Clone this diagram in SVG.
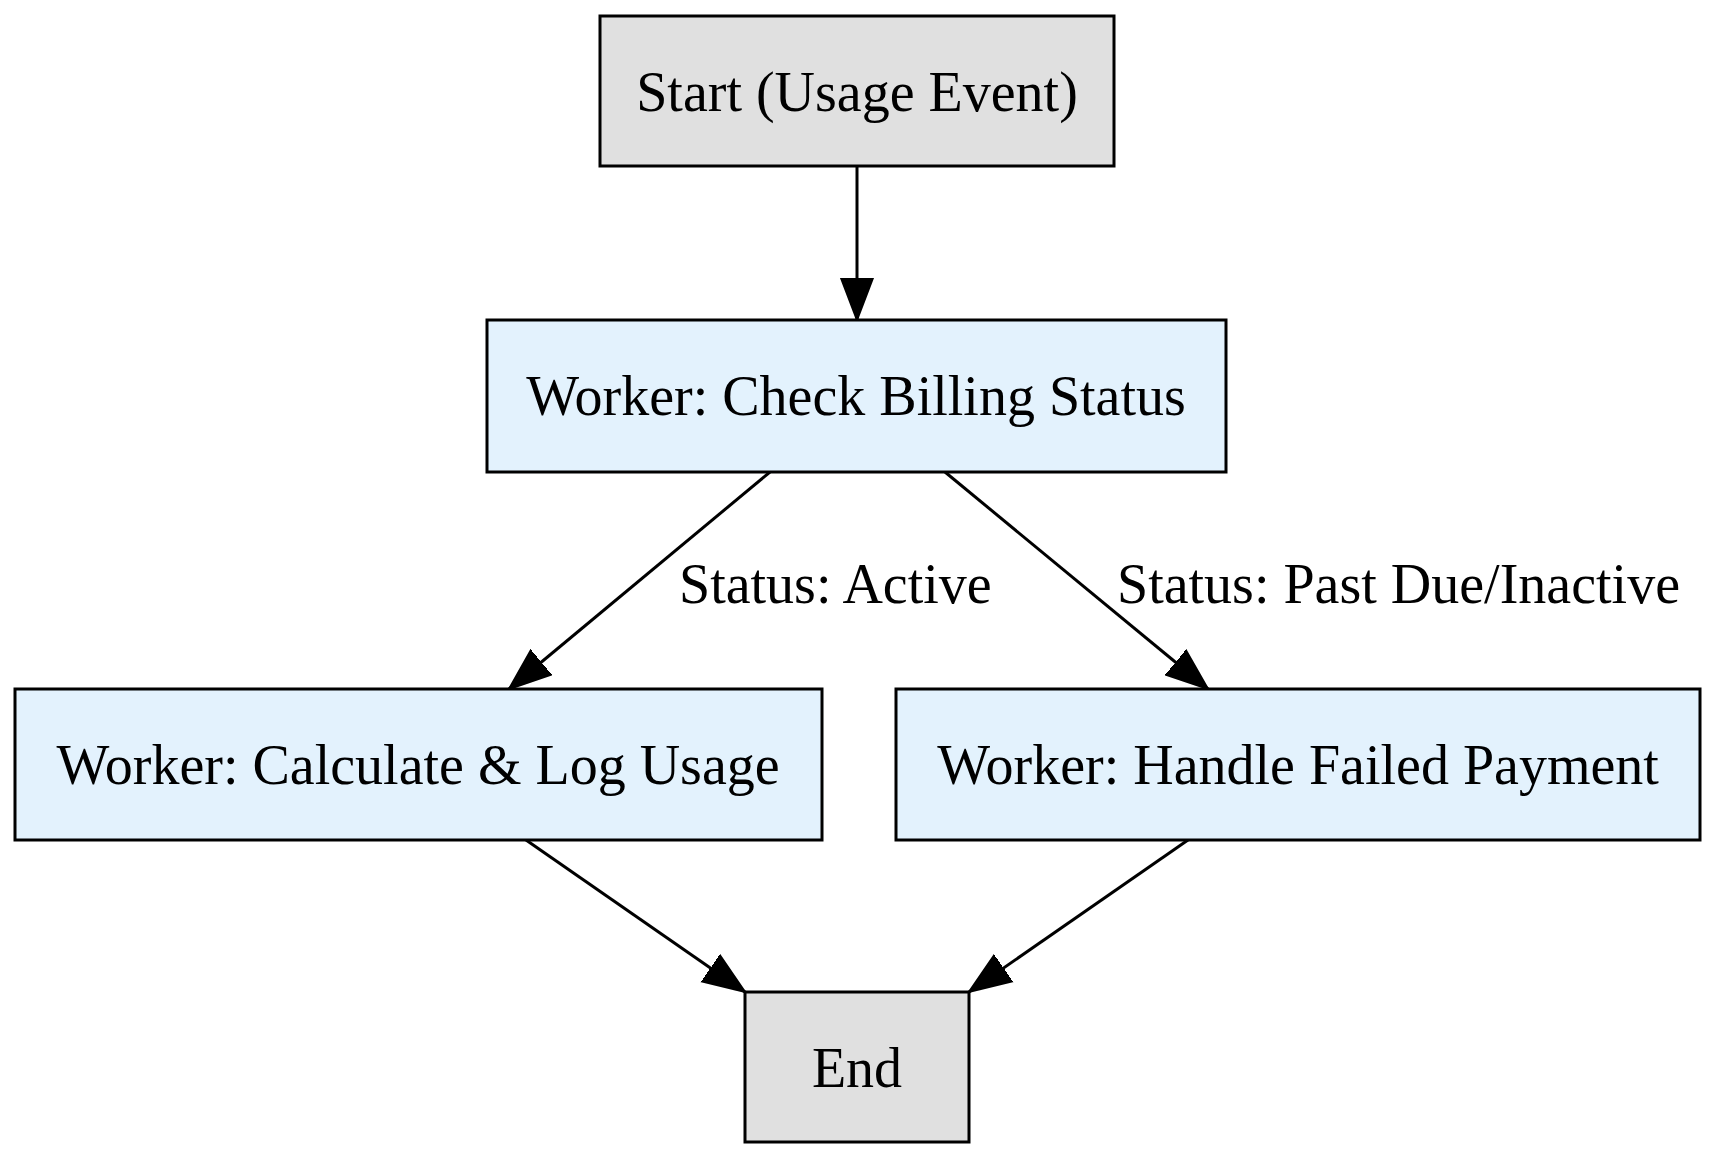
<svg xmlns="http://www.w3.org/2000/svg" width="1718" height="1160" viewBox="0 0 1718 1160">
<style>
.n{stroke:#000;stroke-width:3}
.g{fill:#e0e0e0}.b{fill:#e3f2fd}
text{font-family:"Liberation Serif","Times New Roman",serif;font-size:56px;fill:#000}
.c{text-anchor:middle}
.e{stroke:#000;stroke-width:3;fill:none;marker-end:url(#a)}
</style>
<defs><marker id="a" markerUnits="userSpaceOnUse" markerWidth="44" markerHeight="36" refX="42" refY="18" orient="auto"><path d="M0,2 L42,18 L0,34 Z" fill="#000" stroke="#000" stroke-width="2"/></marker></defs>
<rect width="1718" height="1160" fill="#fff"/>
<g id="edges">
<line class="e" x1="857" y1="166" x2="857" y2="320"/>
<line class="e" x1="770" y1="472" x2="509" y2="689"/>
<line class="e" x1="945" y1="472" x2="1208" y2="689"/>
<line class="e" x1="526" y1="840" x2="745" y2="992"/>
<line class="e" x1="1188" y1="840" x2="969" y2="992"/>
<text x="679" y="603">Status: Active</text>
<text x="1117" y="603">Status: Past Due/Inactive</text>
</g>
<g id="start"><rect class="n g" x="600" y="16" width="514" height="150"/><text class="c" x="857" y="111">Start (Usage Event)</text></g>
<g id="check"><rect class="n b" x="487" y="320" width="739" height="152"/><text class="c" x="856" y="415">Worker: Check Billing Status</text></g>
<g id="calc"><rect class="n b" x="15" y="689" width="807" height="151"/><text class="c" x="418" y="784">Worker: Calculate &amp; Log Usage</text></g>
<g id="handle"><rect class="n b" x="896" y="689" width="804" height="151"/><text class="c" x="1298" y="784">Worker: Handle Failed Payment</text></g>
<g id="end"><rect class="n g" x="745" y="992" width="224" height="150"/><text class="c" x="857" y="1087">End</text></g>
</svg>
